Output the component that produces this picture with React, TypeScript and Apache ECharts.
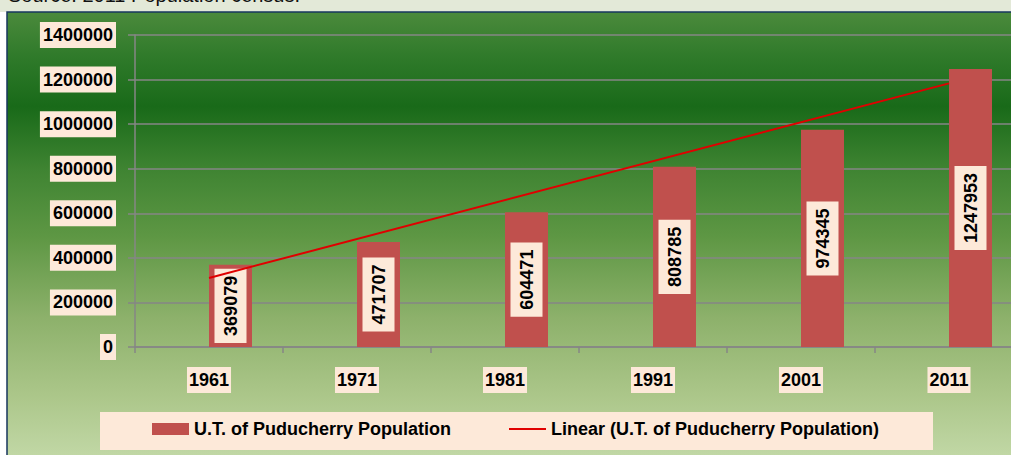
import React, { useEffect, useRef } from "react";
import * as echarts from "echarts";

const categories = ["1961", "1971", "1981", "1991", "2001", "2011"];
const population = [369079, 471707, 604471, 808785, 974345, 1247953];
const trendValues = [310000, null, null, null, null, 1183000];
const blankValues = [null, null, null, null, null, null];
const yTicks = { min: 0, max: 1400000, interval: 200000 };
const seriesName = "U.T. of Puducherry Population";
const trendName = "Linear (U.T. of Puducherry Population)";
const sourceText = "Source: 2011 Population census.";

const FONT = "Liberation Sans, Arial, sans-serif";
const PEACH = "#fde9d9";

const legendText = {
  fontFamily: FONT,
  fontWeight: "bold",
  fontSize: 18,
  color: "#000",
};

export default function App() {
  const ref = useRef<HTMLDivElement>(null);
  useEffect(() => {
    if (!ref.current) return;
    const chart = echarts.init(ref.current, null, { renderer: "svg" });
    chart.setOption({
      animation: false,
      graphic: [
        {
          type: "rect",
          z: -100,
          silent: true,
          shape: { x: 0, y: 0, width: 1023, height: 12 },
          style: { fill: "#e3e9d8" },
        },
        {
          type: "text",
          z: -90,
          silent: true,
          x: 8,
          y: 5,
          style: {
            text: sourceText,
            font: "20px " + FONT,
            fill: "#111",
            verticalAlign: "bottom",
          },
        },
        {
          type: "rect",
          z: -100,
          silent: true,
          shape: { x: 7, y: 12, width: 1022, height: 450 },
          style: {
            fill: {
              type: "linear",
              x: 0,
              y: 0,
              x2: 0,
              y2: 1,
              colorStops: [
                { offset: 0, color: "#4b8a3c" },
                { offset: 0.1, color: "#2f7a2a" },
                { offset: 0.21, color: "#196a19" },
                { offset: 0.35, color: "#3f8432" },
                { offset: 0.5, color: "#5e9744" },
                { offset: 0.68, color: "#8db16b" },
                { offset: 0.85, color: "#abc689" },
                { offset: 1, color: "#c3d9a8" },
              ],
            },
            stroke: "#17365d",
            lineWidth: 1.5,
          },
        },
        {
          type: "rect",
          z: -80,
          silent: true,
          shape: { x: 100, y: 412, width: 833, height: 38 },
          style: { fill: PEACH },
        },
      ],
      legend: [
        {
          left: 152,
          top: 420,
          padding: 0,
          data: [{ name: seriesName, icon: "rect" }],
          itemWidth: 37,
          itemHeight: 12,
          textStyle: legendText,
        },
        {
          left: 509,
          top: 420,
          padding: 0,
          data: [{ name: trendName, icon: "rect" }],
          itemWidth: 37,
          itemHeight: 2,
          textStyle: legendText,
        },
      ],
      grid: { left: 135, top: 35, right: 0, bottom: 108, containLabel: false },
      xAxis: {
        type: "category",
        data: categories,
        axisLine: { lineStyle: { color: "#868686", width: 1.5 } },
        axisTick: { show: true, length: 6, lineStyle: { color: "#868686", width: 1.5 } },
        axisLabel: {
          margin: 20,
          fontFamily: FONT,
          fontWeight: "bold",
          fontSize: 18,
          color: "#000",
          backgroundColor: PEACH,
          padding: [3, 2, 3, 2],
          lineHeight: 20,
        },
      },
      yAxis: {
        type: "value",
        min: yTicks.min,
        max: yTicks.max,
        interval: yTicks.interval,
        axisLine: { show: true, lineStyle: { color: "#868686", width: 1.5 } },
        axisTick: { show: true, length: 7, lineStyle: { color: "#868686", width: 1.5 } },
        splitLine: { lineStyle: { color: "#868686", width: 1.5 } },
        axisLabel: {
          margin: 19,
          formatter: (v: number) => String(v),
          fontFamily: FONT,
          fontWeight: "bold",
          fontSize: 18,
          color: "#000",
          backgroundColor: PEACH,
          padding: [3, 3, 3, 3],
          lineHeight: 20,
        },
      },
      series: [
        {
          name: "blank",
          type: "bar",
          data: blankValues,
          barWidth: 43,
          barGap: "0%",
          silent: true,
        },
        {
          name: seriesName,
          type: "bar",
          data: population,
          barWidth: 43,
          barGap: "0%",
          itemStyle: { color: "#c0504d" },
          label: {
            show: true,
            position: "inside",
            rotate: 90,
            fontFamily: FONT,
            fontWeight: "bold",
            fontSize: 18,
            lineHeight: 20,
            color: "#000",
            backgroundColor: PEACH,
            padding: [6, 7, 6, 7],
          },
        },
        {
          name: trendName,
          type: "line",
          data: trendValues,
          connectNulls: true,
          symbol: "none",
          lineStyle: { color: "#e00000", width: 2 },
          itemStyle: { color: "#e00000" },
          z: 5,
        },
      ],
    });
    return () => chart.dispose();
  }, []);
  return (
    <div
      style={{
        position: "absolute",
        left: 0,
        top: 0,
        width: 1011,
        height: 455,
        overflow: "hidden",
      }}
    >
      <div ref={ref} style={{ width: 1023, height: 455 }} />
    </div>
  );
}
